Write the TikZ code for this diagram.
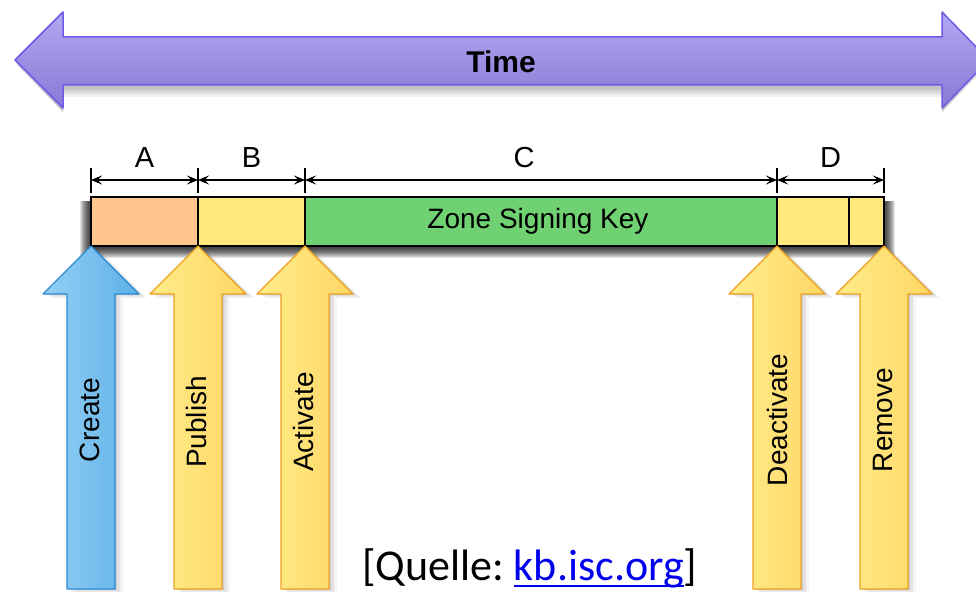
\documentclass[tikz,border=0pt]{standalone}
\usepackage{fontspec}
\setmainfont{Liberation Sans}
\newfontfamily\capfont{Carlito}
\usetikzlibrary{arrows.meta,calc}
\definecolor{orangeF}{HTML}{FFC78E}
\definecolor{yellowF}{HTML}{FFE87C}
\definecolor{greenF}{HTML}{6FD171}
\definecolor{timeT}{HTML}{B2A8F2}
\definecolor{timeB}{HTML}{8A78D6}
\definecolor{timeD}{HTML}{6B5CE6}
\definecolor{bluL}{HTML}{95D0F5}
\definecolor{bluR}{HTML}{5CB0E8}
\definecolor{bluB}{HTML}{2A8AD4}
\definecolor{yelL}{HTML}{FFEC8A}
\definecolor{yelR}{HTML}{FFD665}
\definecolor{yelB}{HTML}{EFA21E}
\definecolor{linkblue}{HTML}{0000EE}
\newcommand\evtarrow[2]{%
  \foreach \s/\o in {2/0.10,5/0.07,8/0.04}
    \fill[black,opacity=\o] ($(#1)+(\s,\s/2)$) -- ++(48,48) -- ++(-24,0) -- ++(0,295) -- ++(-48,0) -- ++(0,-295) -- ++(-24,0) -- cycle;
  \path[#2] (#1) -- ++(48,48) -- ++(-24,0) -- ++(0,295) -- ++(-48,0) -- ++(0,-295) -- ++(-24,0) -- cycle;}
\begin{document}
\begin{tikzpicture}[x=1pt,y=-1pt,
  seg/.style={draw=black, line width=1.2pt, minimum height=49pt, inner sep=0pt, anchor=north west, outer sep=0pt},
  yarr/.style={left color=yelL, right color=yelR, draw=yelB, line width=1.2pt, line join=round},
  barr/.style={left color=bluL, right color=bluR, draw=bluB, line width=1.2pt, line join=round},
  lbl/.style={rotate=90, font=\fontsize{28}{28}\selectfont},
  dimlbl/.style={font=\fontsize{29}{29}\selectfont},
  dim/.style={line width=1.1pt, {Stealth[length=11pt,width=9pt,inset=4.5pt]}-{Stealth[length=11pt,width=9pt,inset=4.5pt]}},
  tick/.style={line width=1.1pt},
  captxt/.style={font=\capfont\fontsize{44}{44}\selectfont, inner sep=0pt, outer sep=0pt}
]
\useasboundingbox (0,0) rectangle (976,591);
\clip (0,0) rectangle (976,591);
\fill[white] (0,0) rectangle (976,591);

% Time arrow
\foreach \r in {0,2,4,6,8}
  \fill[black,opacity=0.05] (15+\r,64+\r/2) -- (63,16+\r/2) -- (63,41+\r) -- (942,41+\r) -- (942,16+\r/2) -- (989-\r,64+\r/2) -- (942,112) -- (942,89+\r) -- (63,89+\r) -- (63,112) -- cycle;
\path[top color=timeT, bottom color=timeB, draw=timeD, line width=1.5pt, line join=round]
  (15,60) -- (63,12) -- (63,37) -- (942,37) -- (942,12) -- (989,60) -- (942,108) -- (942,85) -- (63,85) -- (63,108) -- cycle;
\node[font=\bfseries\fontsize{30}{30}\selectfont] (time) at (501,62) {Time};

% bar shadow
\foreach \r in {0,...,11}
  \fill[black,opacity=0.11] (91-\r,201) rectangle (884+\r,247+\r);

% bar segments
\node[seg, fill=orangeF, minimum width=107pt] (A) at (91,197) {};
\node[seg, fill=yellowF, minimum width=107pt] (B) at (A.north east) {};
\node[seg, fill=greenF, minimum width=472pt] (C) at (B.north east) {};
\node[seg, fill=yellowF, minimum width=72pt] (D1) at (C.north east) {};
\node[seg, fill=yellowF, minimum width=35pt] (D2) at (D1.north east) {};
\node[font=\fontsize{28}{28}\selectfont] (zsk) at ($(C.center)+(-3,0)$) {Zone Signing Key};

% dimension lines
\foreach \n/\p in {t0/A.north west,t1/B.north west,t2/C.north west,t3/D1.north west,t4/D2.north east}{
  \coordinate (\n) at ($(\p)+(0,-17)$);
  \draw[tick] ($(\p)+(0,-29)$) -- ($(\p)+(0,-4)$);
}
\draw[dim] (t0) -- (t1);
\draw[dim] (t1) -- (t2);
\draw[dim] (t2) -- (t3);
\draw[dim] (t3) -- (t4);
\node[dimlbl] (la) at ($($(t0)!0.5!(t1)$)+(0,-22)$) {A};
\node[dimlbl] (lb) at ($($(t1)!0.5!(t2)$)+(0,-22)$) {B};
\node[dimlbl] (lc) at ($($(t2)!0.5!(t3)$)+(-17,-22)$) {C};
\node[dimlbl] (ld) at ($($(t3)!0.5!(t4)$)+(0,-22)$) {D};

% event arrows
\evtarrow{A.south west}{barr}
\evtarrow{B.south west}{yarr}
\evtarrow{C.south west}{yarr}
\evtarrow{D1.south west}{yarr}
\evtarrow{D2.south east}{yarr}
\node[lbl] (create) at ($(A.south west)+(-1,174)$) {Create};
\node[lbl] (publish) at ($(B.south west)+(-2,176)$) {Publish};
\node[lbl] (activate) at ($(C.south west)+(-2,176)$) {Activate};
\node[lbl] (deactivate) at ($(D1.south west)+(0,174)$) {Deactivate};
\node[lbl] (remove) at ($(D2.south east)+(-1,174)$) {Remove};

% source
\node[captxt, anchor=base west] (q) at (362,580) {[Quelle:};
\node[captxt, anchor=base west, text=linkblue] (lnk) at ($(q.base east)+(10,0)$) {kb.isc.org};
\node[captxt, anchor=base west] (qe) at (lnk.base east) {]};
\draw[linkblue, line width=2.2pt] ($(lnk.base west)+(0,6)$) -- ($(lnk.base east)+(0,6)$);
\end{tikzpicture}
\end{document}
